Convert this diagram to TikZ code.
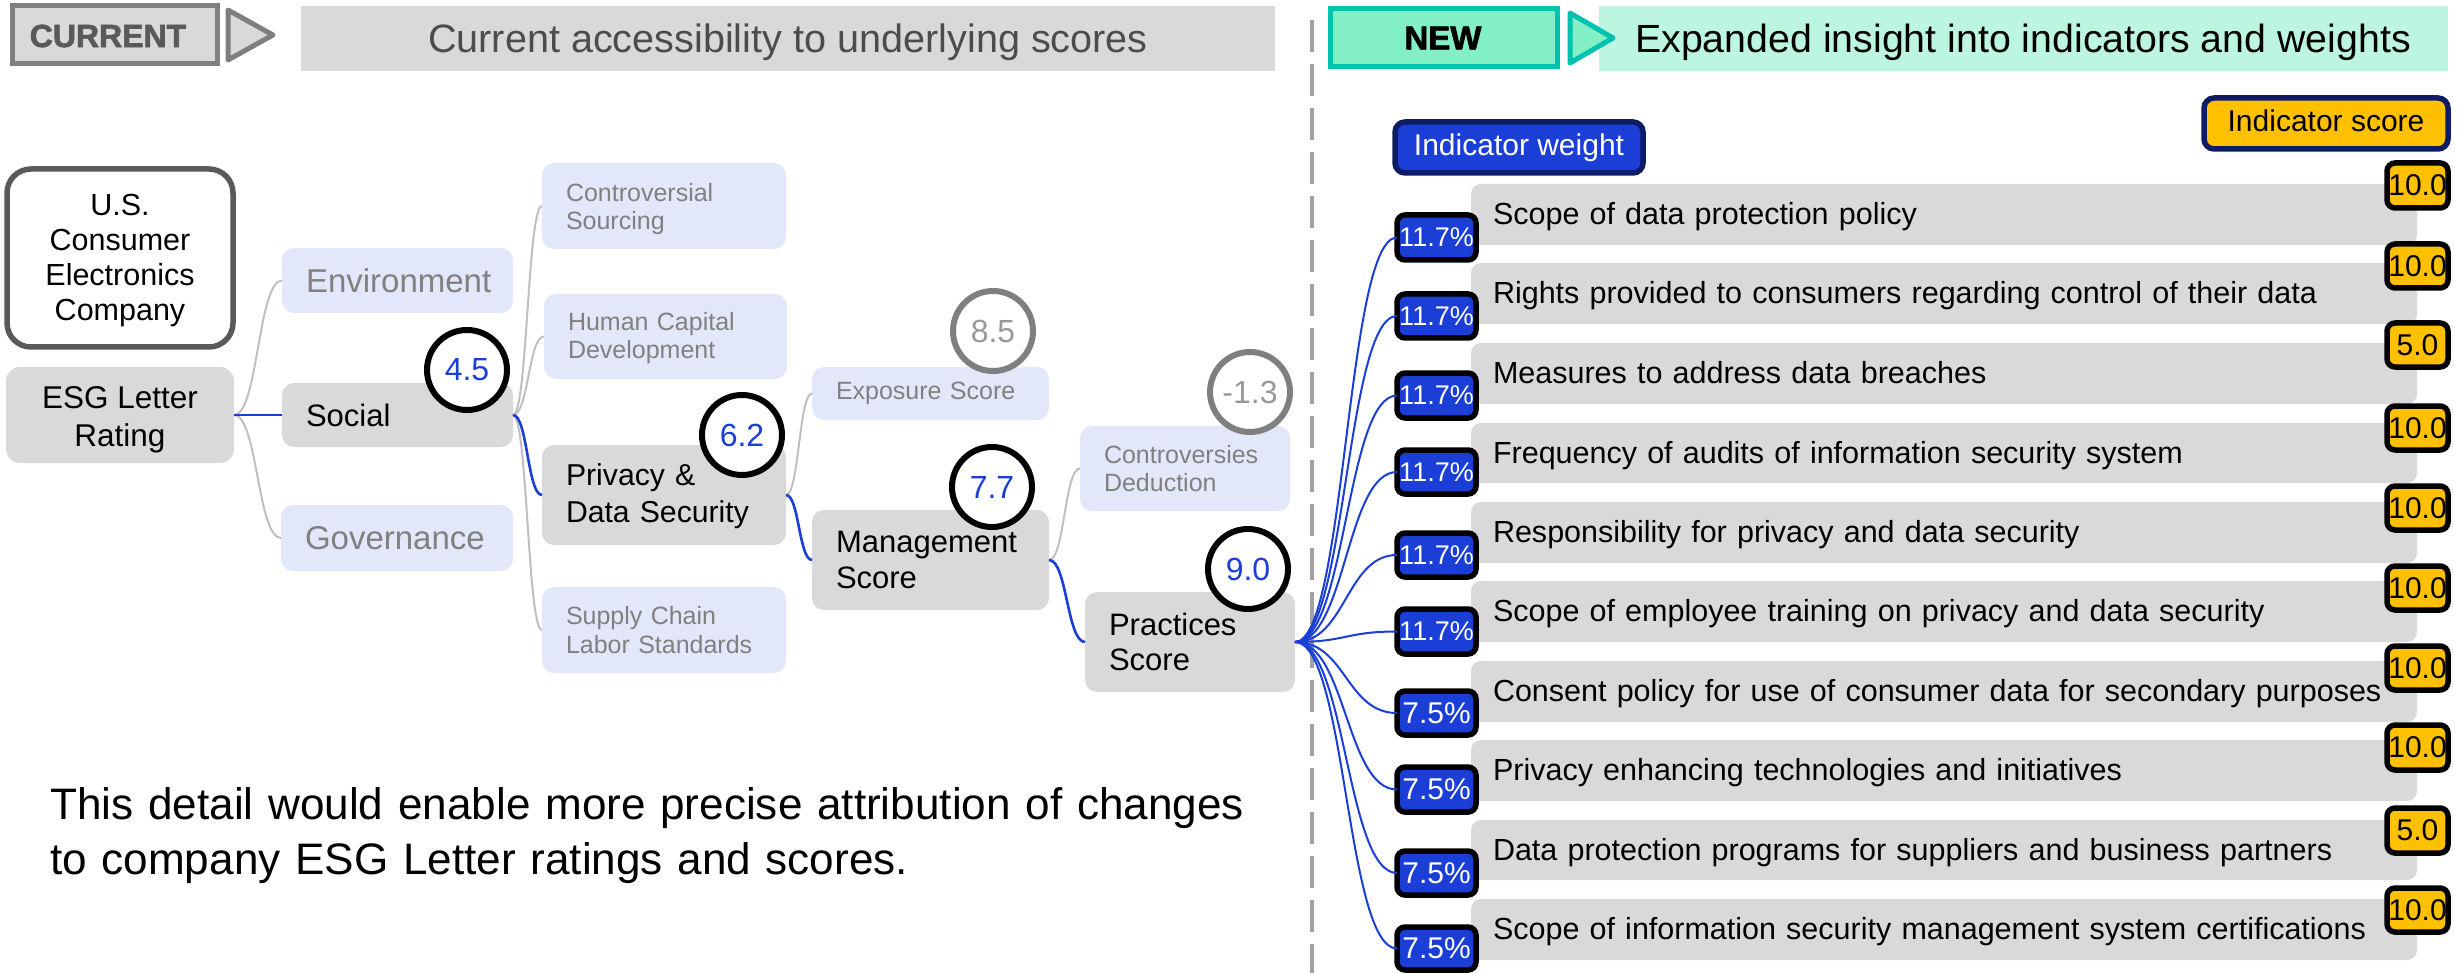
\documentclass[tikz,border=0pt]{standalone}
\usepackage{fontspec}
\setmainfont{Liberation Sans}
\newfontfamily\heavyf[BoldFont={Liberation Sans Bold},BoldFeatures={FakeBold=2}]{Liberation Sans}
\usetikzlibrary{calc}
\definecolor{gbox}{HTML}{D9D9D9}
\definecolor{gline}{HTML}{BFBFBF}
\definecolor{gdark}{HTML}{7F7F7F}
\definecolor{gdeep}{HTML}{595959}
\definecolor{gtext}{HTML}{808080}
\definecolor{lightbox}{HTML}{E3E7FA}
\definecolor{bblue}{HTML}{1B3FD6}
\definecolor{navy}{HTML}{0E1C66}
\definecolor{amber}{HTML}{FFC000}
\definecolor{mint}{HTML}{82EFC5}
\definecolor{mintpale}{HTML}{BDF6E0}
\definecolor{teal}{HTML}{00C2AE}
\newcommand\fs[1]{\pgfmathsetmacro\fsl{#1*1.15}\fontsize{#1}{\fsl}\selectfont}
% name x0 y0 x1 y1 style text
\newcommand\bx[7]{%
  \pgfmathsetmacro\bw{#4-#2}\pgfmathsetmacro\bh{#5-#3}%
  \pgfmathsetmacro\btw{\bw-48}\pgfmathsetmacro\btb{\bw-44}\pgfmathsetmacro\bxc{(#2+#4)/2}\pgfmathsetmacro\byc{(#3+#5)/2}%
  \node[basebox,minimum width=\bw pt,minimum height=\bh pt,#6] (#1) at (\bxc,\byc) {#7};}
\newcommand\link[3]{\draw[#3] (#1.east) .. controls ($(#1.east)!.5!(#1.east -| #2.west)$) and ($(#2.west)!.5!(#2.west -| #1.east)$) .. (#2.west);}
\tikzset{
  basebox/.style={inner sep=0pt,outer sep=0pt,align=center},
  lefttext/.style={text width=\btw pt,inner xsep=24pt,align=left},
  greybox/.style={fill=gbox,rounded corners=12pt,lefttext,font=\fs{31},text=black},
  lightb/.style={fill=lightbox,rounded corners=12pt,lefttext,font=\fs{25},text=gtext},
  lightbig/.style={lightb,font=\fs{33}},
  bar/.style={fill=gbox,rounded corners=10pt,text width=\btb pt,inner xsep=22pt,align=left,font=\fs{30.5},text=black,text height=24pt,text depth=4pt},
  weightb/.style={fill=bblue,draw=black,line width=5.5pt,rounded corners=8pt,text=white,font=\fs{27}},
  weightc/.style={weightb,font=\fs{30}},
  scoreb/.style={fill=amber,draw=black,line width=5.5pt,rounded corners=8pt,text=black,font=\fs{30}},
  scorecirc/.style={circle,fill=white,draw=black,line width=6pt,minimum size=80pt,inner sep=0pt,outer sep=0pt,text=bblue,font=\fs{32}},
  fadecirc/.style={scorecirc,draw=gdark,text=gline!80!black},
  greyline/.style={draw=gline,line width=2pt},
  blueline/.style={draw=bblue,line width=2.6pt},
  headtext/.style={inner sep=0pt},
}
\begin{document}
\begin{tikzpicture}[x=1pt,y=-1pt]
\useasboundingbox (0,0) rectangle (2459,973);
% divider
\coordinate (divtop) at (1312,20);
\coordinate (divbot) at (1312,973);
\draw[draw=gline!85!black,line width=4pt,dash pattern=on 32pt off 12pt] (divtop) -- (divbot);
% headers
\bx{curhead}{301}{6}{1275}{71}{fill=gbox}{}
\node[headtext,text=gdeep!85!black,font=\fs{39.6}] (curtitle) at (788,42) {Current accessibility to underlying scores};
\bx{curbadge}{12}{6}{217}{64}{fill=gbox,draw=gdark,line width=5pt}{}
\node[inner sep=0pt,font=\fs{32}\heavyf\bfseries,text=gdeep] (curlabel) at (108,36) {CURRENT};
\draw[fill=gbox,draw=gdark,line width=5pt,line join=round] (228,10) -- (273,35) -- (228,60) -- cycle;
\bx{newhead}{1599}{6}{2448}{71}{fill=mintpale}{}
\node[headtext,text=black,font=\fs{39.3}] (newtitle) at (2023,42) {Expanded insight into indicators and weights};
\bx{newbadge}{1330}{9}{1557}{67}{fill=mint,draw=teal,line width=5pt}{}
\node[inner sep=0pt,font=\fs{33}\heavyf\bfseries,text=black] (newlabel) at (1443,38) {NEW};
\draw[fill=mint,draw=teal,line width=5pt,line join=round] (1570,13) -- (1613,38) -- (1570,63) -- cycle;
% left tree boxes
\bx{co}{7}{169}{233}{347}{fill=white,draw=gdeep,line width=5.5pt,rounded corners=24pt,font=\fs{30.5}}{\rule{0pt}{26pt}U.S.\\Consumer\\Electronics\\Company}
\bx{esg}{6}{367}{234}{463}{fill=gbox,rounded corners=14pt,font=\fontsize{31.5}{38}\selectfont}{\rule{0pt}{31pt}ESG Letter\\Rating}
\bx{env}{282}{248}{513}{313}{lightbig}{Environment}
\bx{soc}{282}{383}{513}{447}{greybox}{Social}
\bx{gov}{281}{505}{513}{571}{lightbig}{Governance}
\bx{cs}{542}{163}{786}{249}{lightb}{\rule{0pt}{24pt}Controversial\\Sourcing}
\bx{hc}{544}{294}{787}{379}{lightb}{\rule{0pt}{21pt}Human Capital\\Development}
\bx{pds}{542}{445}{786}{545}{greybox,font=\fontsize{30.2}{37}\selectfont}{\rule{0pt}{25pt}Privacy \&\\Data Security}
\bx{sc}{542}{587}{786}{673}{lightb}{Supply Chain\\Labor Standards}
\bx{exp}{812}{367}{1049}{420}{lightb}{Exposure Score}
\bx{mgt}{812}{510}{1049}{610}{greybox}{Management\\Score}
\bx{cd}{1080}{426}{1290}{511}{lightb}{Controversies\\Deduction}
\bx{pr}{1085}{592}{1295}{692}{greybox}{Practices\\Score}
% left connectors
\link{esg}{env}{greyline}
\link{esg}{gov}{greyline}
\link{soc}{cs}{greyline}
\link{soc}{hc}{greyline}
\link{soc}{sc}{greyline}
\link{pds}{exp}{greyline}
\link{mgt}{cd}{greyline}
\link{esg}{soc}{blueline}
\link{soc}{pds}{blueline}
\link{pds}{mgt}{blueline}
\link{mgt}{pr}{blueline}
% score circles
\node[scorecirc] (c1) at (467,370) {4.5};
\node[scorecirc] (c2) at (742,435) {6.2};
\node[fadecirc] (c3) at (993,331) {8.5};
\node[scorecirc] (c4) at (992,487) {7.7};
\node[fadecirc] (c5) at (1250,392) {-1.3};
\node[scorecirc] (c6) at (1248,569) {9.0};
% note
\node[anchor=north west,inner sep=0pt,text width=1300pt,align=left,font=\fontsize{44.1}{55}\selectfont] (note) at (50,787) {This detail would enable more precise attribution of changes\\to company ESG Letter ratings and scores.};
% indicator bars
\bx{b1}{1471}{184}{2417}{245}{bar}{Scope of data protection policy}
\bx{b2}{1471}{263}{2417}{324}{bar}{Rights provided to consumers regarding control of their data}
\bx{b3}{1471}{343}{2417}{404}{bar}{Measures to address data breaches}
\bx{b4}{1471}{423}{2417}{483}{bar}{Frequency of audits of information security system}
\bx{b5}{1471}{502}{2417}{563}{bar}{Responsibility for privacy and data security}
\bx{b6}{1471}{581}{2417}{642}{bar}{Scope of employee training on privacy and data security}
\bx{b7}{1471}{661}{2417}{722}{bar}{Consent policy for use of consumer data for secondary purposes}
\bx{b8}{1471}{740}{2417}{801}{bar}{Privacy enhancing technologies and initiatives}
\bx{b9}{1471}{820}{2417}{880}{bar}{Data protection programs for suppliers and business partners}
\bx{b10}{1471}{899}{2417}{960}{bar}{Scope of information security management system certifications}
% legend
\bx{lw}{1395}{122}{1643}{173}{fill=bblue,draw=navy,line width=5.5pt,rounded corners=10pt,text=white,font=\fs{30},text height=22pt,text depth=5pt}{Indicator weight}
\bx{ls}{2204}{98}{2448}{149}{fill=amber,draw=navy,line width=5.5pt,rounded corners=10pt,text=black,font=\fs{30},text height=22pt,text depth=5pt}{Indicator score}
% weights
\bx{w1}{1397}{215}{1476}{260}{weightb}{11.7\%}
\bx{w2}{1397}{294}{1476}{338}{weightb}{11.7\%}
\bx{w3}{1397}{373}{1476}{418}{weightb}{11.7\%}
\bx{w4}{1397}{450}{1476}{494}{weightb}{11.7\%}
\bx{w5}{1397}{533}{1476}{577}{weightb}{11.7\%}
\bx{w6}{1397}{609}{1476}{654}{weightb}{11.7\%}
\bx{w7}{1397}{691}{1476}{735}{weightc}{7.5\%}
\bx{w8}{1397}{767}{1476}{812}{weightc}{7.5\%}
\bx{w9}{1397}{851}{1476}{895}{weightc}{7.5\%}
\bx{w10}{1397}{927}{1476}{970}{weightc}{7.5\%}
% scores
\bx{s1}{2387}{163}{2448}{208}{scoreb}{10.0}
\bx{s2}{2387}{244}{2448}{288}{scoreb}{10.0}
\bx{s3}{2387}{323}{2448}{367}{scoreb}{5.0}
\bx{s4}{2387}{406}{2448}{450}{scoreb}{10.0}
\bx{s5}{2387}{486}{2448}{530}{scoreb}{10.0}
\bx{s6}{2387}{566}{2448}{610}{scoreb}{10.0}
\bx{s7}{2387}{646}{2448}{690}{scoreb}{10.0}
\bx{s8}{2387}{725}{2448}{770}{scoreb}{10.0}
\bx{s9}{2387}{808}{2448}{853}{scoreb}{5.0}
\bx{s10}{2387}{888}{2448}{932}{scoreb}{10.0}
% weight connectors
\foreach \i in {1,...,10} {\link{pr}{w\i}{blueline,line width=2pt}}
\end{tikzpicture}
\end{document}
